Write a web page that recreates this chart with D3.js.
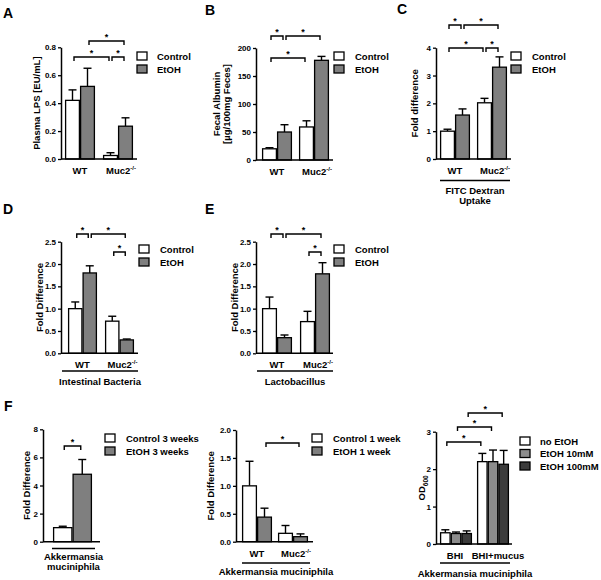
<!DOCTYPE html>
<html><head><meta charset="utf-8">
<script src="https://cdn.jsdelivr.net/npm/d3@7"></script>
<style>
body{margin:0;background:#fff}
svg{display:block;font-family:"Liberation Sans",Arial,sans-serif;font-weight:bold}
</style>
</head><body>
<svg id="chart" width="601" height="580"></svg>
<script>
// ---------------- DATA ----------------
const genotypes = ["WT", "Muc2"];
const genotypeSup = ["", "-/-"];
const treatments = ["Control", "EtOH"];

const lpsMean = [0.42, 0.52, 0.025, 0.235];
const lpsErr  = [0.075, 0.13, 0.02, 0.06];
const lpsTicks = [0, 0.2, 0.4, 0.6, 0.8];

const albMean = [20, 50, 59, 178];
const albErr  = [2, 13, 11, 7];
const albTicks = [0, 50, 100, 150, 200];

const fitcMean = [1.0, 1.58, 2.02, 3.3];
const fitcErr  = [0.07, 0.22, 0.16, 0.37];
const fitcTicks = [0, 1, 2, 3, 4];

const bactMean = [1.0, 1.8, 0.72, 0.3];
const bactErr  = [0.15, 0.16, 0.11, 0.02];
const lactoMean = [1.0, 0.35, 0.71, 1.78];
const lactoErr  = [0.26, 0.06, 0.23, 0.25];
const foldTicks25 = [0, 0.5, 1.0, 1.5, 2.0, 2.5];

const akk3Series = ["Control 3 weeks", "EtOH 3 weeks"];
const akk3Mean = [1.0, 4.8];
const akk3Err  = [0.1, 1.05];
const akk3Ticks = [0, 2, 4, 6, 8];

const akk1Series = ["Control 1 week", "EtOH 1 week"];
const akk1Mean = [1.0, 0.44, 0.15, 0.09];
const akk1Err  = [0.44, 0.16, 0.14, 0.05];
const akk1Ticks = [0, 0.5, 1.0, 1.5, 2.0];

const mediaGroups = ["BHI", "BHI+mucus"];
const ethanolSeries = ["no EtOH", "EtOH 10mM", "EtOH 100mM"];
const odMean = [0.3, 0.28, 0.28, 2.2, 2.2, 2.13];
const odErr  = [0.08, 0.04, 0.07, 0.22, 0.31, 0.37];
const odTicks = [0, 1, 2, 3];

// brackets: [barA, barB, tier]
const bracketsA = [[0, 2, 0], [2, 3, 0], [1, 3, 1]];
const bracketsB = [[0, 2, 0], [0, 1, 1], [1, 3, 1]];
const bracketsC = [[0, 2, 0], [2, 3, 0], [0, 1, 1], [1, 3, 1]];
const bracketsDE = [[2, 3, 0], [0, 1, 1], [1, 3, 1]];
const bracketsF1 = [[0, 1, 0]];
const bracketsF2 = [[1, 3, 0]];
const bracketsF3 = [[0, 3, 0], [1, 4, 1], [2, 5, 2]];

// ---------------- STYLE ----------------
const twoColors = ["#ffffff", "#7f7f7f"];
const threeColors = ["#ffffff", "#8c8c8c", "#3c3c3c"];

const svg = d3.select("#chart");

function panel(cfg) {
  const L = cfg.layout;
  const g = svg.append("g");
  const nG = cfg.groups.length, nS = cfg.series.length;
  const y = d3.scaleLinear().domain([0, cfg.yMax]).range([L.yBot, L.yTop]);
  const xg = d3.scaleBand().domain(d3.range(nG))
    .range([L.x0, L.x0 + nG * L.bw + (nG - 1) * L.gap])
    .paddingInner(nG > 1 ? L.gap / (L.bw + L.gap) : 0).paddingOuter(0);
  const xs = d3.scaleBand().domain(d3.range(nS)).range([0, xg.bandwidth()]);

  const bars = [];
  cfg.means.forEach((m, i) => {
    const gi = Math.floor(i / nS), si = i % nS;
    const x = xg(gi) + xs(si);
    bars.push({x, w: xs.bandwidth(), cx: x + xs.bandwidth() / 2, m, e: cfg.errs[i], si});
  });

  bars.forEach(b => {
    g.append("line").attr("x1", b.cx).attr("x2", b.cx)
      .attr("y1", y(b.m)).attr("y2", y(b.m + b.e))
      .attr("stroke", "#000").attr("stroke-width", 1.4);
    g.append("line").attr("x1", b.cx - 4).attr("x2", b.cx + 4)
      .attr("y1", y(b.m + b.e)).attr("y2", y(b.m + b.e))
      .attr("stroke", "#000").attr("stroke-width", 1.4);
  });
  bars.forEach(b => {
    g.append("rect").attr("x", b.x + 0.6).attr("y", y(b.m))
      .attr("width", b.w - 1.2).attr("height", Math.max(0, y(0) - y(b.m)))
      .attr("fill", cfg.colors[b.si]).attr("stroke", "#000").attr("stroke-width", 1.3);
  });

  // y axis
  const ax = g.append("g").attr("transform", `translate(${L.axisX},0)`)
    .call(d3.axisLeft(y).tickValues(cfg.ticks).tickSize(3).tickSizeOuter(0).tickPadding(2)
      .tickFormat(d3.format(cfg.fmt)));
  ax.select(".domain").attr("stroke-width", 1.5);
  ax.selectAll(".tick line").attr("stroke-width", 1.3);
  ax.selectAll(".tick text").attr("font-size", 8).attr("font-weight", "bold")
    .attr("font-family", "Liberation Sans, Arial, sans-serif").attr("fill", "#000");
  // x axis line
  g.append("line").attr("x1", L.axisX).attr("x2", L.xEnd).attr("y1", L.yBot).attr("y2", L.yBot)
    .attr("stroke", "#000").attr("stroke-width", 1.5);

  // group labels
  if (cfg.groupLabels) {
    cfg.groups.forEach((gl, gi) => {
      const dx = (L.labelDx ? L.labelDx[gi] : 0) + (cfg.sup && cfg.sup[gi] ? 3 : 0);
      const t = g.append("text").attr("x", xg(gi) + xg.bandwidth() / 2 + dx)
        .attr("y", L.yBot + 15).attr("text-anchor", "middle").attr("font-size", 9.5);
      t.append("tspan").text(gl);
      if (cfg.sup && cfg.sup[gi]) t.append("tspan").attr("dy", -4).attr("font-size", 6).text(cfg.sup[gi]);
    });
  }

  // subtitle
  if (cfg.subtitle) {
    g.append("line").attr("x1", L.ulX1).attr("x2", L.ulX2).attr("y1", L.ulY).attr("y2", L.ulY)
      .attr("stroke", "#000").attr("stroke-width", 1.4);
    cfg.subtitle.forEach((s, k) => {
      g.append("text").attr("x", (L.ulX1 + L.ulX2) / 2).attr("y", L.subY + k * 10)
        .attr("text-anchor", "middle").attr("font-size", 9.5).text(s);
    });
  }

  // y label
  cfg.ylabel.forEach((s, k) => {
    const t = g.append("text")
      .attr("transform", `translate(${L.ylX + k * 10},${(L.yTop + L.yBot) / 2}) rotate(-90)`)
      .attr("text-anchor", "middle").attr("font-size", 9.5);
    if (cfg.ylabelSub) {
      t.append("tspan").text(s);
      t.append("tspan").attr("dy", 3).attr("font-size", 6.5).text(cfg.ylabelSub);
    } else t.text(s);
  });

  // brackets
  cfg.brackets.forEach(([a, b, tier]) => {
    const yl = L.tiers[tier];
    const x1 = bars[a].cx + 1.5, x2 = bars[b].cx - 1.5;
    g.append("path").attr("d", `M${x1},${yl + 4}V${yl}H${x2}V${yl + 4}`)
      .attr("fill", "none").attr("stroke", "#000").attr("stroke-width", 1.4);
    g.append("text").attr("x", (x1 + x2) / 2).attr("y", yl - 1.5)
      .attr("text-anchor", "middle").attr("font-size", 9).text("*");
  });

  // legend
  cfg.series.forEach((s, k) => {
    const ly = L.legY + k * L.legStep;
    g.append("rect").attr("x", L.legX).attr("y", ly).attr("width", 10).attr("height", 8)
      .attr("fill", cfg.colors[k]).attr("stroke", "#000").attr("stroke-width", 1.3);
    g.append("text").attr("x", L.legTX).attr("y", ly + 7.5).attr("font-size", 9.5).text(s);
  });

  // panel letter
  if (cfg.letter) {
    g.append("text").attr("x", L.letX).attr("y", L.letY).attr("font-size", 14).text(cfg.letter);
  }
}

panel({letter: "A", groups: genotypes, sup: genotypeSup, groupLabels: true, series: treatments,
  means: lpsMean, errs: lpsErr, ticks: lpsTicks, yMax: 0.8, fmt: ".1f", colors: twoColors,
  ylabel: ["Plasma LPS [EU/mL]"], brackets: bracketsA,
  layout: {x0: 65, bw: 30, gap: 8, axisX: 61, xEnd: 137, yTop: 47.3, yBot: 159, ylX: 40,
    tiers: [57, 41], legX: 137, legY: 52, legStep: 13, legTX: 157, letX: 3, letY: 18}});

panel({letter: "B", groups: genotypes, sup: genotypeSup, groupLabels: true, series: treatments,
  means: albMean, errs: albErr, ticks: albTicks, yMax: 200, fmt: "d", colors: twoColors,
  ylabel: ["Fecal Albumin", "[µg/100mg Feces]"], brackets: bracketsB,
  layout: {x0: 262, bw: 30, gap: 7, axisX: 256, xEnd: 333, yTop: 48, yBot: 160, ylX: 220,
    tiers: [58, 36], legX: 334, legY: 52, legStep: 13, legTX: 355, letX: 205, letY: 15}});

panel({letter: "C", groups: genotypes, sup: genotypeSup, groupLabels: true, series: treatments,
  means: fitcMean, errs: fitcErr, ticks: fitcTicks, yMax: 4, fmt: "d", colors: twoColors,
  ylabel: ["Fold difference"], brackets: bracketsC, subtitle: ["FITC Dextran", "Uptake"],
  layout: {x0: 440, bw: 30, gap: 7, axisX: 436, xEnd: 511, yTop: 47.7, yBot: 159, ylX: 418,
    tiers: [48, 25], legX: 511, legY: 52, legStep: 13, legTX: 532, letX: 397, letY: 14,
    ulX1: 440, ulX2: 510, ulY: 180.5, subY: 193.5}});

panel({letter: "D", groups: genotypes, sup: genotypeSup, groupLabels: true, series: treatments,
  means: bactMean, errs: bactErr, ticks: foldTicks25, yMax: 2.5, fmt: ".1f", colors: twoColors,
  ylabel: ["Fold Difference"], brackets: bracketsDE, subtitle: ["Intestinal Bacteria"],
  layout: {x0: 68, bw: 29, gap: 8, axisX: 61, xEnd: 138, yTop: 241.7, yBot: 353.3, ylX: 43,
    tiers: [252, 234], legX: 139, legY: 245, legStep: 13, legTX: 160, letX: 3, letY: 214,
    ulX1: 62, ulX2: 138, ulY: 371, subY: 384.5}});

panel({letter: "E", groups: genotypes, sup: genotypeSup, groupLabels: true, series: treatments,
  means: lactoMean, errs: lactoErr, ticks: foldTicks25, yMax: 2.5, fmt: ".1f", colors: twoColors,
  ylabel: ["Fold Difference"], brackets: bracketsDE, subtitle: ["Lactobacillus"],
  layout: {x0: 262, bw: 30, gap: 8, axisX: 256, xEnd: 333, yTop: 241.7, yBot: 353.3, ylX: 238,
    tiers: [252, 234], legX: 334, legY: 245, legStep: 13, legTX: 355, letX: 205, letY: 214,
    ulX1: 257, ulX2: 333, ulY: 371, subY: 384.5}});

panel({letter: "F", groups: ["Akkermansia"], groupLabels: false, series: akk3Series,
  means: akk3Mean, errs: akk3Err, ticks: akk3Ticks, yMax: 8, fmt: "d", colors: twoColors,
  ylabel: ["Fold Difference"], brackets: bracketsF1, subtitle: ["Akkermansia", "muciniphila"],
  layout: {x0: 53, bw: 39, gap: 0, axisX: 43, xEnd: 100, yTop: 429.3, yBot: 541.7, ylX: 30,
    tiers: [446], legX: 105, legY: 434, legStep: 13, legTX: 126, letX: 4, letY: 411,
    ulX1: 52, ulX2: 95, ulY: 548.5, subY: 559.5}});

panel({groups: genotypes, sup: genotypeSup, groupLabels: true, series: akk1Series,
  means: akk1Mean, errs: akk1Err, ticks: akk1Ticks, yMax: 2, fmt: ".1f", colors: twoColors,
  ylabel: ["Fold Difference"], brackets: bracketsF2, subtitle: ["Akkermansia muciniphila"],
  layout: {x0: 242, bw: 30, gap: 6, axisX: 236, xEnd: 313, yTop: 430, yBot: 541.7, ylX: 214,
    tiers: [443], legX: 312, legY: 434, legStep: 13, legTX: 333,
    ulX1: 242, ulX2: 310, ulY: 563, subY: 574.5}});

panel({groups: mediaGroups, groupLabels: true, series: ethanolSeries,
  means: odMean, errs: odErr, ticks: odTicks, yMax: 3, fmt: "d", colors: threeColors,
  ylabel: ["OD"], ylabelSub: "600", brackets: bracketsF3, subtitle: ["Akkermansia muciniphila"],
  layout: {x0: 440, bw: 32, gap: 5, axisX: 436, xEnd: 512, yTop: 431.7, yBot: 544, ylX: 425,
    tiers: [442, 427, 413], legX: 520, legY: 437, legStep: 12.5, legTX: 540, labelDx: [-1, 5],
    ulX1: 440, ulX2: 510, ulY: 563, subY: 576.5}});
</script>
</body></html>
